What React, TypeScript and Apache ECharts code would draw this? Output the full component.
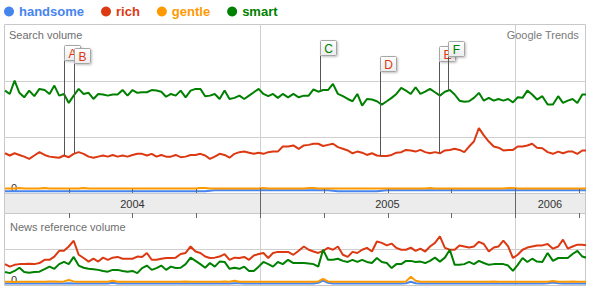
import React, { useEffect, useRef } from "react";
import * as echarts from "echarts";

const SERIES_NAMES = ["handsome", "rich", "gentle", "smart"];
const SERIES_COLORS = ["#4684ee", "#dc3912", "#ff9900", "#008000"];

const FIRST_WEEK = "2004-01-01";

// Search volume (weekly)
const HANDSOME_SEARCH = [
  0.03, 0.03, 0.03, 0.03, 0.03, 0.03, 0.03, 0.03, 0.03, 0.03,
  0.03, 0.03, 0.03, 0.03, 0.03, 0.03, 0.03, 0.03, 0.03, 0.03,
  0.03, 0.03, 0.03, 0.03, 0.03, 0.03, 0.03, 0.03, 0.03, 0.03,
  0.03, 0.03, 0.03, 0.03, 0.03, 0.03, 0.03, 0.03, 0.03, 0.03,
  0.03, 0.03, 0.04, 0.05, 0.05, 0.05, 0.05, 0.05, 0.05, 0.05,
  0.05, 0.05, 0.05, 0.05, 0.05, 0.05, 0.05, 0.05, 0.05, 0.05,
  0.05, 0.05, 0.05, 0.05, 0.05, 0.05, 0.05, 0.04, 0.03, 0.03,
  0.03, 0.03, 0.03, 0.03, 0.03, 0.03, 0.03, 0.04, 0.05, 0.05,
  0.05, 0.05, 0.05, 0.05, 0.05, 0.05, 0.05, 0.05, 0.05, 0.05,
  0.05, 0.05, 0.05, 0.05, 0.05, 0.05, 0.05, 0.05, 0.05, 0.05,
  0.05, 0.05, 0.05, 0.05, 0.05, 0.05, 0.05, 0.05, 0.05, 0.05,
  0.05, 0.05, 0.05, 0.05, 0.05, 0.05, 0.05, 0.05, 0.05, 0.05,
];
const RICH_SEARCH = [
  0.71, 0.67, 0.71, 0.68, 0.65, 0.61, 0.67, 0.73, 0.68, 0.65,
  0.64, 0.63, 0.67, 0.64, 0.70, 0.73, 0.70, 0.65, 0.63, 0.65,
  0.67, 0.65, 0.68, 0.65, 0.67, 0.65, 0.68, 0.70, 0.70, 0.67,
  0.70, 0.65, 0.68, 0.65, 0.65, 0.68, 0.64, 0.65, 0.68, 0.68,
  0.70,
  0.67, 0.61, 0.65, 0.70, 0.68, 0.63, 0.70, 0.73, 0.74, 0.72,
  0.70, 0.72, 0.70, 0.73, 0.74, 0.74, 0.83, 0.83, 0.85, 0.79,
  0.85, 0.86, 0.88, 0.88, 0.84, 0.86, 0.88, 0.82, 0.79, 0.76,
  0.71, 0.74, 0.72, 0.68, 0.71, 0.67, 0.66, 0.66, 0.68, 0.72,
  0.73, 0.77, 0.76, 0.74, 0.77, 0.73, 0.71, 0.73, 0.71, 0.76,
  0.77, 0.79, 0.77, 0.73, 0.83, 0.92, 1.16, 1.03, 0.92, 0.83,
  0.81, 0.76, 0.77, 0.77, 0.83, 0.83, 0.85, 0.88, 0.81, 0.80,
  0.73, 0.70, 0.74, 0.71, 0.74, 0.74, 0.70, 0.76, 0.76,
];
const GENTLE_SEARCH = [
  0.08, 0.08, 0.08, 0.09, 0.08, 0.08, 0.08, 0.08, 0.09, 0.08,
  0.08, 0.08, 0.08, 0.08, 0.08, 0.08, 0.09, 0.08, 0.08, 0.08,
  0.08, 0.08, 0.08, 0.08, 0.08, 0.08, 0.08, 0.08, 0.08, 0.08,
  0.08, 0.08, 0.08, 0.08, 0.08, 0.08, 0.08, 0.08, 0.08, 0.08,
  0.09, 0.09, 0.08, 0.08, 0.08, 0.08, 0.08, 0.08, 0.08, 0.08,
  0.08, 0.08, 0.08, 0.09, 0.08, 0.08, 0.08, 0.08, 0.08, 0.08,
  0.08, 0.08, 0.09, 0.09, 0.08, 0.08, 0.08, 0.08, 0.08, 0.08,
  0.08, 0.08, 0.08, 0.08, 0.08, 0.08, 0.08, 0.08, 0.08, 0.08,
  0.08, 0.08, 0.08, 0.08, 0.08, 0.08, 0.08, 0.09, 0.08, 0.08,
  0.08, 0.08, 0.08, 0.08, 0.08, 0.08, 0.08, 0.08, 0.08, 0.08,
  0.08, 0.08, 0.08, 0.09, 0.09, 0.08, 0.08, 0.08, 0.08, 0.08,
  0.08, 0.08, 0.08, 0.08, 0.08, 0.08, 0.08, 0.08, 0.08, 0.08,
];
const SMART_SEARCH = [
  1.83, 1.77, 2.01, 1.79, 1.71, 1.83, 1.73, 1.86, 1.84, 1.77,
  1.92, 1.74, 1.77, 1.61, 1.74, 1.86, 1.77, 1.79, 1.68, 1.77,
  1.76, 1.74, 1.76, 1.76, 1.84, 1.74, 1.84, 1.79, 1.80, 1.80,
  1.84, 1.83, 1.81, 1.72, 1.77, 1.74, 1.83, 1.71, 1.83, 1.86,
  1.86,
  1.73, 1.74, 1.77, 1.68, 1.83, 1.68, 1.70, 1.74, 1.68, 1.74,
  1.80, 1.86, 1.77, 1.73, 1.77, 1.70, 1.77, 1.71, 1.77, 1.71,
  1.74, 1.74, 1.85, 1.81, 1.84, 1.84, 1.95, 1.77, 1.73, 1.68,
  1.64, 1.77, 1.56, 1.68, 1.67, 1.64, 1.58, 1.64, 1.70, 1.77,
  1.88, 1.83, 1.77, 1.89, 1.77, 1.81, 1.86, 1.80, 1.74, 1.81,
  1.84, 1.76, 1.65, 1.63, 1.64, 1.70, 1.79, 1.65, 1.70, 1.65,
  1.68, 1.65, 1.68, 1.62, 1.71, 1.70, 1.83, 1.76, 1.67, 1.73,
  1.58, 1.58, 1.73, 1.61, 1.65, 1.68, 1.61, 1.76, 1.76,
];

// News reference volume (weekly)
const HANDSOME_NEWS = [
  0.04, 0.04, 0.04, 0.04, 0.04, 0.04, 0.04, 0.04, 0.04, 0.04,
  0.04, 0.04, 0.04, 0.05, 0.04, 0.04, 0.04, 0.04, 0.04, 0.04,
  0.04, 0.04, 0.06, 0.04, 0.04, 0.04, 0.04, 0.04, 0.04, 0.04,
  0.04, 0.04, 0.04, 0.04, 0.04, 0.04, 0.04, 0.04, 0.04, 0.04,
  0.04, 0.04, 0.04, 0.04, 0.04, 0.04, 0.04, 0.05, 0.05, 0.04,
  0.04, 0.04, 0.04, 0.04, 0.04, 0.04, 0.04, 0.04, 0.04, 0.04,
  0.04, 0.04, 0.04, 0.04, 0.06, 0.12, 0.06, 0.04, 0.04, 0.04,
  0.04, 0.04, 0.04, 0.04, 0.04, 0.04, 0.04, 0.04, 0.04, 0.04,
  0.04, 0.04, 0.05, 0.09, 0.05, 0.04, 0.04, 0.04, 0.04, 0.04,
  0.04, 0.04, 0.04, 0.04, 0.04, 0.04, 0.04, 0.04, 0.04, 0.04,
  0.04, 0.04, 0.04, 0.04, 0.04, 0.04, 0.04, 0.04, 0.04, 0.04,
  0.04, 0.05, 0.07, 0.05, 0.04, 0.04, 0.04, 0.04, 0.04, 0.04,
];
const RICH_NEWS = [
  0.58, 0.51, 0.56, 0.58, 0.58, 0.59, 0.58, 0.61, 0.70, 0.70,
  0.79, 0.95, 0.95, 1.07, 1.23, 0.84, 0.75, 0.65, 0.73, 0.65,
  0.76, 0.70, 0.76, 0.78, 0.73, 0.73, 0.73, 0.79, 0.78, 0.89,
  0.70, 0.70, 0.73, 0.75, 0.75, 0.76, 0.86, 0.89, 1.07, 0.93,
  0.89,
  0.79, 0.75, 0.76, 0.79, 0.86, 0.70, 0.76, 0.75, 0.78, 0.70,
  0.82, 0.86, 0.89, 0.75, 0.89, 0.92, 0.92, 0.92, 0.84, 0.95,
  1.07, 0.98, 0.93, 0.89, 0.95, 1.03, 0.98, 1.07, 0.84, 0.78,
  0.92, 0.89, 0.98, 1.03, 0.93, 1.21, 1.17, 1.10, 1.15, 1.03,
  0.98, 0.98, 1.04, 0.95, 1.01, 0.93, 1.07, 1.17, 1.35, 1.03,
  0.98, 0.98, 1.10, 1.07, 1.04, 1.07, 1.20, 1.14, 0.93, 1.04,
  1.07, 1.23, 1.07, 0.75, 0.84, 0.98, 1.04, 1.07, 1.10, 1.10,
  1.14, 1.01, 1.07, 1.26, 1.01, 1.07, 1.12, 1.12, 1.10,
];
const GENTLE_NEWS = [
  0.09, 0.09, 0.08, 0.09, 0.09, 0.09, 0.09, 0.09, 0.09, 0.10,
  0.10, 0.09, 0.10, 0.14, 0.10, 0.09, 0.09, 0.09, 0.09, 0.09,
  0.09, 0.09, 0.12, 0.09, 0.09, 0.09, 0.09, 0.09, 0.09, 0.09,
  0.09, 0.09, 0.09, 0.09, 0.09, 0.09, 0.09, 0.10, 0.09, 0.09,
  0.09, 0.09, 0.09, 0.09, 0.09, 0.10, 0.09, 0.12, 0.09, 0.09,
  0.09, 0.09, 0.09, 0.09, 0.09, 0.09, 0.09, 0.09, 0.09, 0.09,
  0.09, 0.09, 0.09, 0.09, 0.10, 0.17, 0.10, 0.09, 0.09, 0.09,
  0.09, 0.09, 0.09, 0.09, 0.09, 0.09, 0.09, 0.09, 0.09, 0.09,
  0.09, 0.09, 0.10, 0.23, 0.12, 0.09, 0.09, 0.09, 0.09, 0.09,
  0.09, 0.09, 0.09, 0.09, 0.09, 0.09, 0.09, 0.09, 0.09, 0.09,
  0.10, 0.09, 0.09, 0.09, 0.09, 0.09, 0.09, 0.09, 0.09, 0.09,
  0.09, 0.09, 0.11, 0.09, 0.09, 0.09, 0.10, 0.09, 0.09, 0.09,
];
const SMART_NEWS = [
  0.36, 0.33, 0.39, 0.48, 0.36, 0.34, 0.36, 0.37, 0.44, 0.51,
  0.45, 0.58, 0.64, 0.58, 0.78, 0.54, 0.48, 0.45, 0.44, 0.42,
  0.39, 0.37, 0.42, 0.42, 0.39, 0.37, 0.39, 0.33, 0.47, 0.54,
  0.42, 0.47, 0.54, 0.42, 0.51, 0.47, 0.48, 0.58, 0.76, 0.67,
  0.58,
  0.48, 0.61, 0.51, 0.65, 0.64, 0.45, 0.48, 0.45, 0.51, 0.39,
  0.39, 0.51, 0.64, 0.58, 0.51, 0.64, 0.58, 0.70, 0.61, 0.61,
  0.61, 0.60, 0.58, 0.51, 0.98, 0.70, 0.70, 0.73, 0.67, 0.64,
  0.70, 0.64, 0.70, 0.64, 0.61, 0.75, 0.64, 0.61, 0.47, 0.58,
  0.58, 0.67, 0.67, 0.64, 0.65, 0.61, 0.67, 0.76, 0.65, 0.76,
  0.98, 0.56, 0.56, 0.58, 0.64, 0.58, 0.67, 0.61, 0.56, 0.58,
  0.58, 0.58, 0.54, 0.39, 0.56, 0.75, 0.64, 0.73, 0.65, 0.64,
  0.89, 0.67, 0.75, 0.75, 0.75, 0.86, 0.95, 0.79, 0.75,
];

const YEAR_LABELS = ["2004", "2005", "2006"];
const YEAR_STARTS = ["2004-01-01", "2005-01-01", "2006-01-01"];
const QUARTER_TICKS = ["2004-04-01", "2004-07-01", "2004-10-01", "2005-04-01", "2005-07-01", "2005-10-01", "2006-04-01"];
const YEAR_TICKS = ["2005-01-01", "2006-01-01"];
const SEARCH_GRIDLINES = [1, 2];
const NEWS_GRIDLINES = [1];

const MARKER_LETTERS = ["A", "B", "C", "D", "E", "F"];
const MARKER_DATES = ["2004-03-25", "2004-04-09", "2005-03-27", "2005-06-20", "2005-09-13", "2005-09-26"];
const MARKER_SERIES = ["rich", "rich", "smart", "rich", "rich", "smart"];
const MARKER_LEVELS = [2.65, 2.6, 2.73, 2.44, 2.62, 2.71];

// axis extents (x in months since January 2004)
const X_MIN = -0.047;
const X_MAX = 27.294;
const SEARCH_MAX = 3.02;
const NEWS_MAX = 2;

const FONT = 'Arial, "Liberation Sans", sans-serif';
const DAY_MS = 86400000;

function monthsOf(ms: number): number {
  const dt = new Date(ms);
  const y = dt.getUTCFullYear();
  const m = dt.getUTCMonth();
  const d = dt.getUTCDate();
  const dim = new Date(Date.UTC(y, m + 1, 0)).getUTCDate();
  return (y - 2004) * 12 + m + (d - 1) / dim;
}
function monthsOfDate(s: string): number {
  return monthsOf(Date.parse(s + "T00:00:00Z"));
}
const FIRST_MS = Date.parse(FIRST_WEEK + "T00:00:00Z");
const WEEK_X = SMART_SEARCH.map((_, i) => monthsOf(FIRST_MS + i * 7 * DAY_MS));

function valueAtMonth(values: number[], m: number): number {
  for (let i = 0; i < values.length - 1; i++) {
    const a = WEEK_X[i];
    const b = WEEK_X[i + 1];
    if (m >= a && m <= b) {
      const f = (m - a) / (b - a);
      return values[i] + (values[i + 1] - values[i]) * f;
    }
  }
  return values[values.length - 1];
}

const SEARCH_BY_NAME: Record<string, number[]> = {
  handsome: HANDSOME_SEARCH,
  rich: RICH_SEARCH,
  gentle: GENTLE_SEARCH,
  smart: SMART_SEARCH,
};

function lineSeries(name: string, values: number[], gridIdx: number) {
  const c = SERIES_COLORS[SERIES_NAMES.indexOf(name)];
  return {
    type: "line",
    name,
    xAxisIndex: gridIdx,
    yAxisIndex: gridIdx,
    data: values.map((v, i) => [WEEK_X[i], v]),
    symbol: "none",
    showSymbol: false,
    silent: true,
    z: 3,
    clip: true,
    lineStyle: { width: 2, color: c },
    itemStyle: { color: c },
    emphasis: { disabled: true },
  };
}

function frameSeries(gridIdx: number, fill: string) {
  return {
    type: "custom",
    xAxisIndex: gridIdx,
    yAxisIndex: gridIdx,
    silent: true,
    z: 0,
    data: [[0, 0]],
    renderItem: (params: any) => {
      const cs = params.coordSys;
      return {
        type: "rect",
        shape: {
          x: Math.round(cs.x) + 0.5,
          y: Math.round(cs.y) + 0.5,
          width: Math.round(cs.width),
          height: Math.round(cs.height),
        },
        style: { fill, stroke: "#c8c8c8", lineWidth: 1 },
      };
    },
  };
}

function hLineSeries(gridIdx: number, values: number[]) {
  return {
    type: "custom",
    xAxisIndex: gridIdx,
    yAxisIndex: gridIdx,
    silent: true,
    z: 1,
    data: values.map((v) => [0, v]),
    renderItem: (params: any, api: any) => {
      const cs = params.coordSys;
      const y = Math.round(api.coord([0, api.value(1)])[1]) + 0.5;
      return {
        type: "line",
        shape: { x1: cs.x, y1: y, x2: cs.x + cs.width, y2: y },
        style: { stroke: "#cfcfcf", lineWidth: 1 },
      };
    },
  };
}

function vLineSeries(gridIdx: number) {
  return {
    type: "custom",
    xAxisIndex: gridIdx,
    yAxisIndex: gridIdx,
    silent: true,
    z: 1,
    data: YEAR_TICKS.map((s) => [monthsOfDate(s), 0]),
    renderItem: (params: any, api: any) => {
      const cs = params.coordSys;
      const x = Math.round(api.coord([api.value(0), 0])[0]) + 0.5;
      return {
        type: "line",
        shape: { x1: x, y1: cs.y, x2: x, y2: cs.y + cs.height },
        style: { stroke: "#cfcfcf", lineWidth: 1 },
      };
    },
  };
}

const YEAR_MIDS = YEAR_STARTS.map((s, i) => {
  const a = Math.max(monthsOfDate(s), X_MIN);
  const b = i + 1 < YEAR_STARTS.length ? monthsOfDate(YEAR_STARTS[i + 1]) : X_MAX;
  return (a + Math.min(b, X_MAX)) / 2;
});

export default function App() {
  const ref = useRef<HTMLDivElement>(null);

  useEffect(() => {
    if (!ref.current) return;
    const chart = echarts.init(ref.current, undefined, { renderer: "svg" });

    const flagFill = new echarts.graphic.LinearGradient(0, 0, 0, 1, [
      { offset: 0, color: "#ffffff" },
      { offset: 1, color: "#ececec" },
    ]);

    const yAxisBase = (gridIndex: number, max: number) => ({
      type: "value",
      gridIndex,
      min: 0,
      max,
      show: true,
      axisLine: { show: false },
      axisTick: { show: false },
      splitLine: { show: false },
      axisLabel: {
        inside: true,
        margin: 7,
        showMinLabel: true,
        color: "#333",
        fontSize: 11,
        fontFamily: FONT,
        verticalAlign: "bottom",
        formatter: (v: number) => (v === 0 ? "0" : ""),
      },
    });

    const option: any = {
      animation: false,
      backgroundColor: "#ffffff",
      textStyle: { fontFamily: FONT },
      title: [
        {
          text: "Search volume",
          left: 9,
          top: 29,
          padding: 0,
          textStyle: { fontSize: 11, fontWeight: "normal", color: "#6e6e6e", fontFamily: FONT },
        },
        {
          text: "Google Trends",
          right: 19,
          top: 29,
          padding: 0,
          textStyle: { fontSize: 11, fontWeight: "normal", color: "#7a7a7a", fontFamily: FONT },
        },
        {
          text: "News reference volume",
          left: 10,
          top: 221,
          padding: 0,
          textStyle: { fontSize: 11, fontWeight: "normal", color: "#6e6e6e", fontFamily: FONT },
        },
      ],
      legend: {
        left: 4,
        top: 5,
        padding: 0,
        itemWidth: 10,
        itemHeight: 10,
        itemGap: 17,
        icon: "circle",
        textStyle: { fontSize: 13, fontWeight: "bold", fontFamily: FONT },
        data: SERIES_NAMES.map((n, i) => ({ name: n, textStyle: { color: SERIES_COLORS[i] } })),
      },
      grid: [
        { left: 4, top: 24, width: 581, height: 169, outerBoundsMode: "none", containLabel: false },
        { left: 4, top: 193, width: 581, height: 20, outerBoundsMode: "none", containLabel: false },
        { left: 4, top: 213, width: 581, height: 72, outerBoundsMode: "none", containLabel: false },
      ],
      xAxis: [0, 1, 2].map((g) => ({ type: "value", gridIndex: g, min: X_MIN, max: X_MAX, show: false })),
      yAxis: [
        yAxisBase(0, SEARCH_MAX),
        { type: "value", gridIndex: 1, min: 0, max: 1, show: false },
        yAxisBase(2, NEWS_MAX),
      ],
      series: [
        frameSeries(0, "rgba(0,0,0,0)"),
        frameSeries(1, "#ececec"),
        frameSeries(2, "rgba(0,0,0,0)"),
        hLineSeries(0, SEARCH_GRIDLINES),
        hLineSeries(2, NEWS_GRIDLINES),
        vLineSeries(0),
        vLineSeries(2),
        lineSeries("handsome", HANDSOME_SEARCH, 0),
        lineSeries("gentle", GENTLE_SEARCH, 0),
        lineSeries("rich", RICH_SEARCH, 0),
        lineSeries("smart", SMART_SEARCH, 0),
        lineSeries("handsome", HANDSOME_NEWS, 2),
        lineSeries("gentle", GENTLE_NEWS, 2),
        lineSeries("rich", RICH_NEWS, 2),
        lineSeries("smart", SMART_NEWS, 2),
        {
          // ticks on the date band
          type: "custom",
          xAxisIndex: 1,
          yAxisIndex: 1,
          silent: true,
          z: 4,
          data: [
            ...QUARTER_TICKS.map((s) => [monthsOfDate(s), 0]),
            ...YEAR_TICKS.map((s) => [monthsOfDate(s), 1]),
          ],
          renderItem: (params: any, api: any) => {
            const cs = params.coordSys;
            const x = Math.round(api.coord([api.value(0), 0])[0]) + 0.5;
            const top = Math.round(cs.y);
            const bottom = Math.round(cs.y + cs.height);
            const style = { stroke: "#666", lineWidth: 1 };
            if (api.value(1) === 1) {
              return { type: "line", shape: { x1: x, y1: top - 5, x2: x, y2: bottom + 5 }, style };
            }
            return {
              type: "group",
              children: [
                { type: "line", shape: { x1: x, y1: top - 4, x2: x, y2: top }, style },
                { type: "line", shape: { x1: x, y1: bottom, x2: x, y2: bottom + 5 }, style },
              ],
            };
          },
        },
        {
          // year labels on the date band
          type: "custom",
          xAxisIndex: 1,
          yAxisIndex: 1,
          silent: true,
          z: 4,
          data: YEAR_MIDS.map((m) => [m, 0.5]),
          renderItem: (params: any, api: any) => {
            const p = api.coord([api.value(0), 0.5]);
            return {
              type: "text",
              style: {
                text: YEAR_LABELS[params.dataIndex],
                x: p[0],
                y: p[1] + 1,
                align: "center",
                verticalAlign: "middle",
                fill: "#333",
                font: "11px " + FONT,
              },
            };
          },
        },
        {
          // annotation flags
          type: "custom",
          xAxisIndex: 0,
          yAxisIndex: 0,
          silent: true,
          z: 6,
          data: MARKER_DATES.map((s, i) => {
            const m = monthsOfDate(s);
            return [m, valueAtMonth(SEARCH_BY_NAME[MARKER_SERIES[i]], m), MARKER_LEVELS[i]];
          }),
          renderItem: (params: any, api: any) => {
            const i = params.dataIndex;
            const p = api.coord([api.value(0), api.value(1)]);
            const t = api.coord([api.value(0), api.value(2)]);
            const x = Math.round(p[0]) + 0.5;
            const y = Math.round(t[1]) + 0.5;
            const W = 16;
            const H = 15;
            const color = SERIES_COLORS[SERIES_NAMES.indexOf(MARKER_SERIES[i])];
            return {
              type: "group",
              children: [
                {
                  type: "line",
                  shape: { x1: x, y1: y + H, x2: x, y2: p[1] },
                  style: { stroke: "#555", lineWidth: 1 },
                },
                {
                  type: "rect",
                  shape: { x, y, width: W, height: H, r: 1 },
                  style: {
                    fill: flagFill,
                    stroke: "#a6a6a6",
                    lineWidth: 1,
                    shadowBlur: 2,
                    shadowOffsetX: 1,
                    shadowOffsetY: 1,
                    shadowColor: "rgba(0,0,0,0.25)",
                  },
                },
                {
                  type: "text",
                  style: {
                    text: MARKER_LETTERS[i],
                    x: x + W / 2,
                    y: y + H / 2 + 0.5,
                    align: "center",
                    verticalAlign: "middle",
                    fill: color,
                    font: "12px " + FONT,
                  },
                },
              ],
            };
          },
        },
      ],
    };

    chart.setOption(option);
    return () => {
      chart.dispose();
    };
  }, []);

  return (
    <div
      ref={ref}
      style={{ position: "absolute", left: 0, top: 0, width: 598, height: 296, background: "#fff" }}
    />
  );
}
